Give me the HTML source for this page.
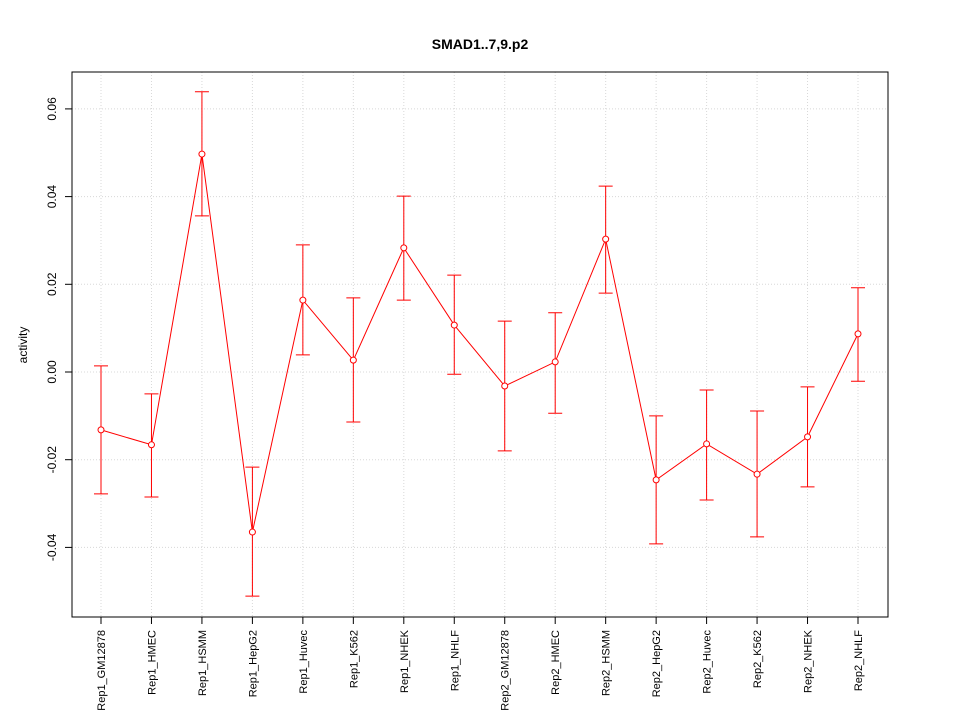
<!DOCTYPE html>
<html><head><meta charset="utf-8"><style>
body{margin:0;background:#fff}
svg text{font-family:"Liberation Sans",Arial,sans-serif}
</style></head><body>
<svg id="c" width="960" height="720" viewBox="0 0 960 720">
<rect width="960" height="720" fill="#fff"/>
<text x="480" y="49" text-anchor="middle" font-size="14" font-weight="bold">SMAD1..7,9.p2</text>
<text transform="translate(27,345) rotate(-90)" text-anchor="middle" font-size="12">activity</text>
<g id="grid"></g><g id="axes"></g><g id="marks"></g>
<rect x="72" y="72" width="816" height="545" fill="none" stroke="#000"/>
</svg>
<script>
const categories=["Rep1_GM12878","Rep1_HMEC","Rep1_HSMM","Rep1_HepG2","Rep1_Huvec","Rep1_K562","Rep1_NHEK","Rep1_NHLF","Rep2_GM12878","Rep2_HMEC","Rep2_HSMM","Rep2_HepG2","Rep2_Huvec","Rep2_K562","Rep2_NHEK","Rep2_NHLF"];
const values=[-0.0132,-0.0166,0.0497,-0.0365,0.0164,0.0027,0.0283,0.0107,-0.0032,0.0023,0.0303,-0.0246,-0.0164,-0.0233,-0.0148,0.0087];
const upper=[0.0014,-0.005,0.0639,-0.0217,0.029,0.0169,0.0401,0.0221,0.0116,0.0135,0.0424,-0.01,-0.0041,-0.0089,-0.0034,0.0192];
const lower=[-0.0278,-0.0285,0.0356,-0.0511,0.0039,-0.0114,0.0164,-0.0005,-0.018,-0.0094,0.018,-0.0392,-0.0292,-0.0376,-0.0262,-0.0021];
const yTicks=[-0.04,-0.02,0,0.02,0.04,0.06];
const yTickLabels=["-0.04","-0.02","0.00","0.02","0.04","0.06"];
const NS="http://www.w3.org/2000/svg";
const x=i=>101+i*(858-101)/(categories.length-1);
const y=v=>372-v*4385;
function mk(p,t,a){const e=document.createElementNS(NS,t);for(const k in a)e.setAttribute(k,a[k]);document.getElementById(p).appendChild(e);return e;}
yTicks.forEach((t,i)=>{
 let g=mk('grid','line',{x1:72,x2:888,y1:y(t),y2:y(t),stroke:'#d8d8d8','stroke-dasharray':'1,2'});
 
 
 let tk=mk('axes','line',{x1:65,x2:72,y1:y(t),y2:y(t),stroke:'#000'});
 
 
 let tx=mk('axes','text',{transform:`translate(56,${y(t)}) rotate(-90)`,'text-anchor':'middle','font-size':12});
 tx.textContent=yTickLabels[i];
 
 
});
categories.forEach((c,i)=>{
 let g=mk('grid','line',{x1:x(i),x2:x(i),y1:72,y2:617,stroke:'#d8d8d8','stroke-dasharray':'1,2'});
 
 
 let tk=mk('axes','line',{x1:x(i),x2:x(i),y1:617,y2:624,stroke:'#000'});
 
 
 let tx=mk('axes','text',{transform:`translate(${x(i)+4},630) rotate(-90)`,'text-anchor':'end','font-size':11});
 tx.textContent=c;
 
 
});
categories.forEach((c,i)=>{
 const X=x(i);
 let e=mk('marks','path',{d:`M${X},${y(upper[i])}V${y(lower[i])}M${X-7},${y(upper[i])}H${X+7}M${X-7},${y(lower[i])}H${X+7}`,stroke:'#f00',fill:'none'});
 
 
});
let line=mk('marks','polyline',{points:values.map((v,i)=>x(i)+','+y(v)).join(' '),fill:'none',stroke:'#f00'});


values.forEach((v,i)=>{
 let p=mk('marks','circle',{cx:x(i),cy:y(v),r:3,fill:'#fff',stroke:'#f00'});
 
 
});
</script>
</body></html>
